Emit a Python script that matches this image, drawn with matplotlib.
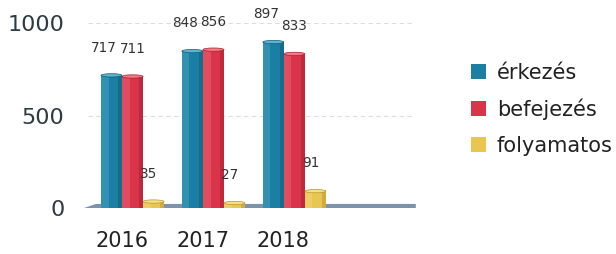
import matplotlib
matplotlib.use("Agg")
import matplotlib.pyplot as plt
from matplotlib.patches import Polygon, Ellipse, Patch
import numpy as np

years = ["2016", "2017", "2018"]
series = ["érkezés", "befejezés", "folyamatos"]
erkezes = [717, 848, 897]
befejezes = [711, 856, 833]
folyamatos = [35, 27, 91]
yticks = [0, 500, 1000]

colors = ["#1a7fa3", "#d9344a", "#e9c552"]
dark = ["#0f5d78", "#a8202f", "#b8952c"]
light = ["#5fb3cf", "#f07a86", "#f5e08a"]

W, H = 616, 254
fig = plt.figure(figsize=(W / 100, H / 100), dpi=100)
ax_l, ax_r, ax_b, ax_t = 88, 415, 208, 23
ax = fig.add_axes([ax_l / W, 1 - ax_b / H, (ax_r - ax_l) / W, (ax_b - ax_t) / H])
ax.set_xlim(-0.55, 3.49)
ax.set_ylim(0, 1000)
for s in ax.spines.values():
    s.set_visible(False)
ax.set_xticks([])
ax.set_yticks(yticks)
ax.set_yticklabels([str(v) for v in yticks], fontsize=16, color="#2c3c44")
ax.tick_params(axis="y", length=0, pad=17)
for v in yticks[1:]:
    ax.axhline(v, color="#dddddd", lw=0.8, ls=(0, (4, 3)), zorder=0)

# floor
floor = Polygon([[-0.6, 0], [-0.45, 22], [3.5, 22], [3.5, 0]], closed=True,
                facecolor="#7d93ab", edgecolor="none", zorder=1, clip_on=False)
ax.add_patch(floor)

x = np.arange(len(years))
w = 0.26
offs = [-0.26, 0.0, 0.26]
label_shift = [-0.09, 0.0, -0.06]
data = [erkezes, befejezes, folyamatos]
for i, vals in enumerate(data):
    xs = x + offs[i]
    ax.bar(xs, vals, width=w, color=colors[i], edgecolor="none", zorder=2 + i)
    # shading for a cylindrical look
    ax.bar(xs - w * 0.32, vals, width=w * 0.36, color=light[i], alpha=0.35,
           edgecolor="none", zorder=2 + i)
    ax.bar(xs + w * 0.4, vals, width=w * 0.2, color=dark[i], alpha=0.5,
           edgecolor="none", zorder=2 + i)
    for xx, v in zip(xs, vals):
        ax.add_patch(Ellipse((xx, v), w, 18, facecolor=light[i], edgecolor=dark[i],
                             lw=0.5, zorder=2 + i))
        ax.text(xx + label_shift[i], v + 150, str(v), ha="center", va="center",
                fontsize=9.8, color="#333333", zorder=10)

for xx, lab in zip(x, years):
    fig.text((122 + 80.5 * xx) / W, 1 - 241 / H, lab, ha="center", va="center",
             fontsize=15, color="#222222")

handles = [Patch(facecolor=c, edgecolor="none") for c in colors]
fig.legend(handles, series, loc="upper left", bbox_to_anchor=(452 / W, 1 - 44 / H),
           frameon=False, fontsize=15, handlelength=0.75, handleheight=0.75,
           handletextpad=0.5, labelspacing=0.75, labelcolor="#222222")

fig.savefig("out.png", dpi=100)
